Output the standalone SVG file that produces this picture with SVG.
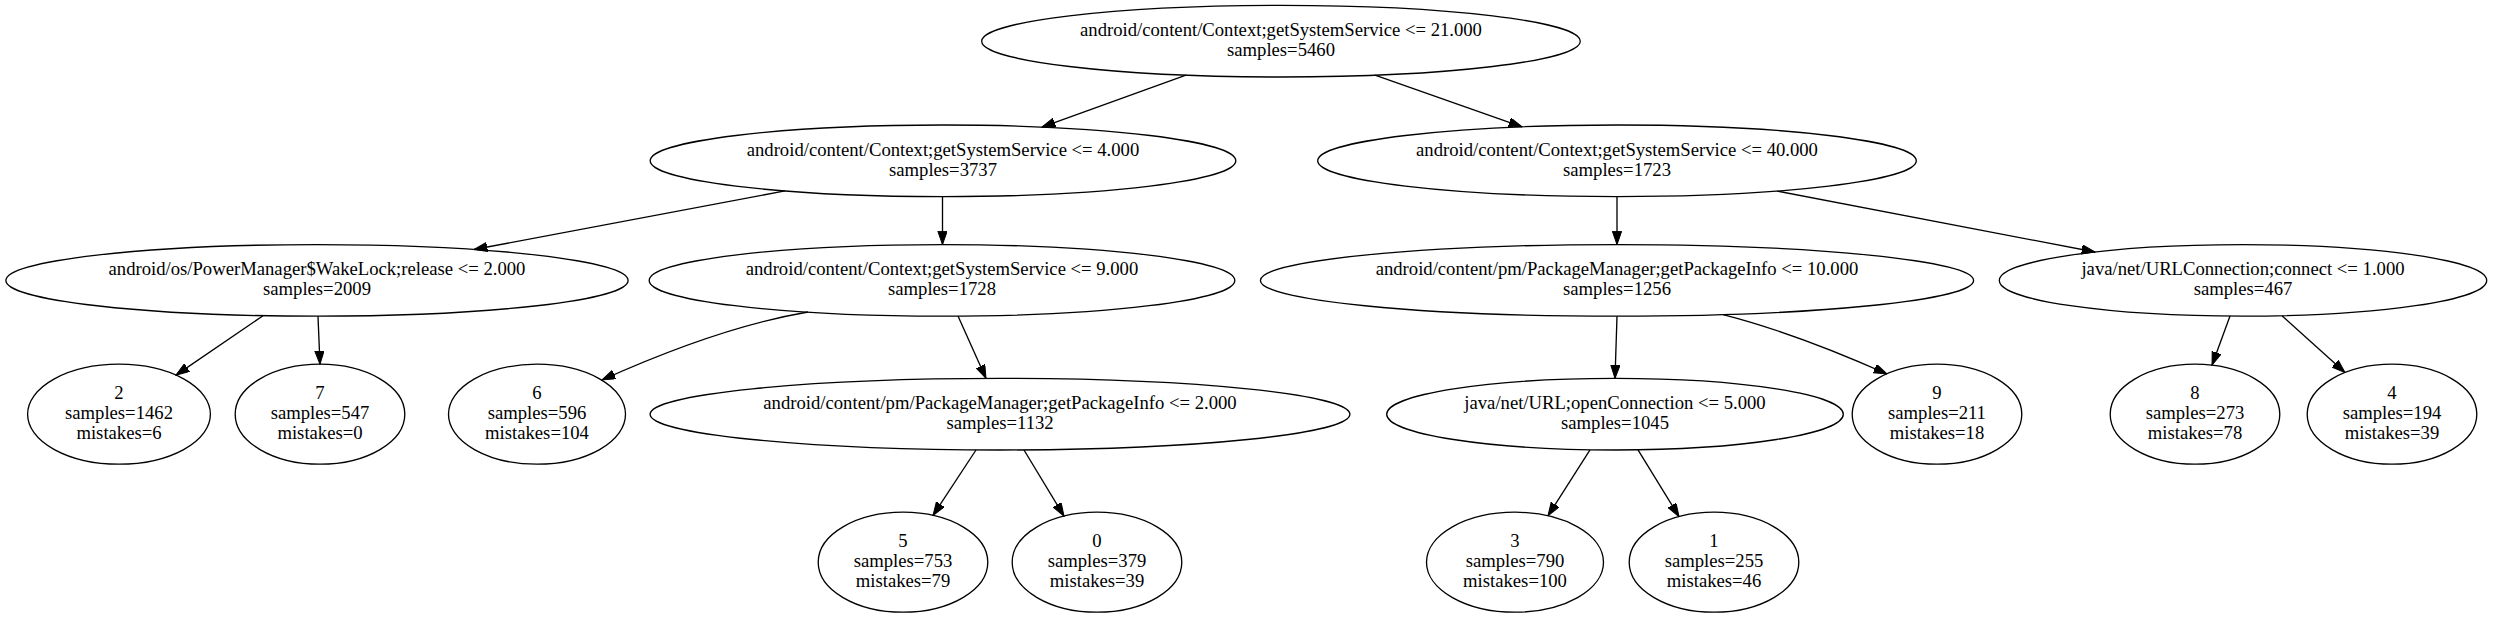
<svg xmlns="http://www.w3.org/2000/svg" width="2493" height="618" viewBox="0 0 2493 618">
<style>
.n ellipse{fill:none;stroke:#000;stroke-width:1.33}
.n text{font-family:"Liberation Serif","Times New Roman",serif;font-size:18.67px;text-anchor:middle;fill:#000}
.e path{fill:none;stroke:#000;stroke-width:1.33;marker-end:url(#ah)}
</style>
<defs>
<marker id="ah" markerUnits="userSpaceOnUse" markerWidth="14" markerHeight="10" refX="13.33" refY="4.67" orient="auto">
<path d="M0,0 L13.33,4.67 L0,9.33 Z" fill="#000" stroke="#000" stroke-width="1"/>
</marker>
</defs>
<rect width="2493" height="618" fill="#fff"/>
<g class="e" id="edges">
<path d="M1186,75.2 L1042,127.1"/>
<path d="M1375,75.2 L1522,126.8"/>
<path d="M785,190.9 L474,249.5"/>
<path d="M942.5,196.6 L942.5,244.6"/>
<path d="M1617,196.6 L1617,244.6"/>
<path d="M1777,191.1 L2095,252"/>
<path d="M263,315.7 L176,375.1"/>
<path d="M318,316.2 L320,364.2"/>
<path d="M808,312 Q720,327 602,380"/>
<path d="M958,316.1 L986,378.4"/>
<path d="M1617,316.2 L1615,378.4"/>
<path d="M1723,314.6 Q1795,333 1887,374"/>
<path d="M2230,316.1 L2212,365.2"/>
<path d="M2282,315.7 L2345,372.6"/>
<path d="M976,450 L933,515.4"/>
<path d="M1024,450 L1064,516.1"/>
<path d="M1590,449.8 L1548,515.8"/>
<path d="M1638,449.8 L1679,516.6"/>
</g>
<g class="n" id="node0"><ellipse cx="1281" cy="41.2" rx="299.3" ry="35.8"/><text x="1281" y="36.1">android/content/Context;getSystemService &lt;= 21.000</text><text x="1281" y="56.1">samples=5460</text></g>
<g class="n" id="node1"><ellipse cx="943" cy="160.8" rx="292.8" ry="35.8"/><text x="943" y="155.7">android/content/Context;getSystemService &lt;= 4.000</text><text x="943" y="175.7">samples=3737</text></g>
<g class="n" id="node2"><ellipse cx="1617" cy="160.8" rx="299.3" ry="35.8"/><text x="1617" y="155.7">android/content/Context;getSystemService &lt;= 40.000</text><text x="1617" y="175.7">samples=1723</text></g>
<g class="n" id="node3"><ellipse cx="317" cy="280.4" rx="311.1" ry="35.8"/><text x="317" y="275.3">android/os/PowerManager$WakeLock;release &lt;= 2.000</text><text x="317" y="295.3">samples=2009</text></g>
<g class="n" id="node4"><ellipse cx="942" cy="280.4" rx="292.8" ry="35.8"/><text x="942" y="275.3">android/content/Context;getSystemService &lt;= 9.000</text><text x="942" y="295.3">samples=1728</text></g>
<g class="n" id="node5"><ellipse cx="1617" cy="280.4" rx="356.6" ry="35.8"/><text x="1617" y="275.3">android/content/pm/PackageManager;getPackageInfo &lt;= 10.000</text><text x="1617" y="295.3">samples=1256</text></g>
<g class="n" id="node6"><ellipse cx="2243" cy="280.4" rx="243.7" ry="35.8"/><text x="2243" y="275.3">java/net/URLConnection;connect &lt;= 1.000</text><text x="2243" y="295.3">samples=467</text></g>
<g class="n" id="leaf2"><ellipse cx="119" cy="414.2" rx="91.4" ry="50"/><text x="119" y="399.1">2</text><text x="119" y="419.1">samples=1462</text><text x="119" y="439.1">mistakes=6</text></g>
<g class="n" id="leaf7"><ellipse cx="320" cy="414.2" rx="84.8" ry="50"/><text x="320" y="399.1">7</text><text x="320" y="419.1">samples=547</text><text x="320" y="439.1">mistakes=0</text></g>
<g class="n" id="leaf6"><ellipse cx="537" cy="414.2" rx="88.5" ry="50"/><text x="537" y="399.1">6</text><text x="537" y="419.1">samples=596</text><text x="537" y="439.1">mistakes=104</text></g>
<g class="n" id="node7"><ellipse cx="1000" cy="414.2" rx="349.9" ry="35.8"/><text x="1000" y="409.1">android/content/pm/PackageManager;getPackageInfo &lt;= 2.000</text><text x="1000" y="429.1">samples=1132</text></g>
<g class="n" id="node8"><ellipse cx="1615" cy="414.2" rx="228.3" ry="35.8"/><text x="1615" y="409.1">java/net/URL;openConnection &lt;= 5.000</text><text x="1615" y="429.1">samples=1045</text></g>
<g class="n" id="leaf9"><ellipse cx="1937" cy="414.2" rx="84.8" ry="50"/><text x="1937" y="399.1">9</text><text x="1937" y="419.1">samples=211</text><text x="1937" y="439.1">mistakes=18</text></g>
<g class="n" id="leaf8"><ellipse cx="2195" cy="414.2" rx="84.8" ry="50"/><text x="2195" y="399.1">8</text><text x="2195" y="419.1">samples=273</text><text x="2195" y="439.1">mistakes=78</text></g>
<g class="n" id="leaf4"><ellipse cx="2392" cy="414.2" rx="84.8" ry="50"/><text x="2392" y="399.1">4</text><text x="2392" y="419.1">samples=194</text><text x="2392" y="439.1">mistakes=39</text></g>
<g class="n" id="leaf5"><ellipse cx="903" cy="562.2" rx="84.8" ry="50"/><text x="903" y="547.1">5</text><text x="903" y="567.1">samples=753</text><text x="903" y="587.1">mistakes=79</text></g>
<g class="n" id="leaf0"><ellipse cx="1097" cy="562.2" rx="84.8" ry="50"/><text x="1097" y="547.1">0</text><text x="1097" y="567.1">samples=379</text><text x="1097" y="587.1">mistakes=39</text></g>
<g class="n" id="leaf3"><ellipse cx="1515" cy="562.2" rx="88.5" ry="50"/><text x="1515" y="547.1">3</text><text x="1515" y="567.1">samples=790</text><text x="1515" y="587.1">mistakes=100</text></g>
<g class="n" id="leaf1"><ellipse cx="1714" cy="562.2" rx="84.8" ry="50"/><text x="1714" y="547.1">1</text><text x="1714" y="567.1">samples=255</text><text x="1714" y="587.1">mistakes=46</text></g>
</svg>
